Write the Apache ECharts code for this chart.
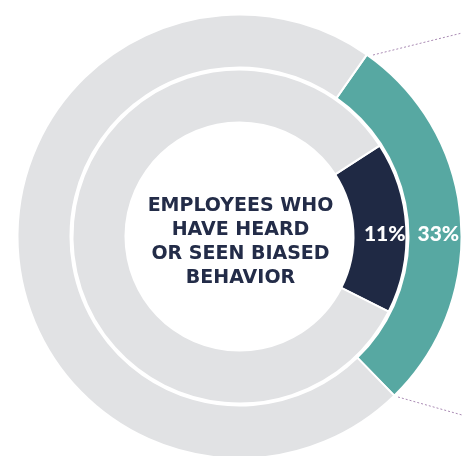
<!DOCTYPE html>
<html><head><meta charset="utf-8">
<script src="https://cdn.jsdelivr.net/npm/echarts@6/dist/echarts.min.js"></script>
<style>html,body{margin:0;padding:0;background:#fff}#c{width:462px;height:456px}</style>
</head><body><div id="c"></div>
<script>
// Slice shares as drawn in the picture (share of the full circle, %)
const outerNames = ['Have heard or seen biased behavior', 'Other'];
const outerShare = [28, 72];
const outerLabels = ['33%', ''];
const innerNames = ['Employees who have heard or seen biased behavior', 'Other'];
const innerShare = [16.6, 83.4];
const innerLabels = ['11%', ''];
const centerLines = ['EMPLOYEES WHO', 'HAVE HEARD', 'OR SEEN BIASED', 'BEHAVIOR'];

const GREY = '#E1E2E4', TEAL = '#57A8A2', NAVY = '#1F2944';
const FONT = 'Lato';

function build(names, vals, labels, colors, offset) {
  return names.map((n, i) => ({
    name: n, value: vals[i],
    itemStyle: { color: colors[i] },
    label: { show: !!labels[i], formatter: labels[i], offset: offset }
  }));
}

const chart = echarts.init(document.getElementById('c'), null, { renderer: 'canvas' });
chart.setOption({
  animation: false,
  series: [
    {
      type: 'pie', center: [239.5, 236.5], radius: [169, 222], startAngle: 55, clockwise: true,
      silent: true, avoidLabelOverlap: false,
      itemStyle: { borderColor: '#fff', borderWidth: 2 },
      label: { position: 'inside', color: '#fff', fontFamily: FONT, fontWeight: 900, fontSize: 21 },
      labelLine: { show: false },
      data: build(outerNames, outerShare, outerLabels, [TEAL, GREY], [1, 14])
    },
    {
      type: 'pie', center: [239.5, 236.5], radius: [114, 167], startAngle: 33, clockwise: true,
      silent: true, avoidLabelOverlap: false,
      itemStyle: { borderColor: '#fff', borderWidth: 2 },
      label: { position: 'inside', color: '#fff', fontFamily: FONT, fontWeight: 900, fontSize: 21 },
      labelLine: { show: false },
      data: build(innerNames, innerShare, innerLabels, [NAVY, GREY], [2, 6])
    }
  ],
  graphic: [
    {
      type: 'text', x: 240.5, y: 242,
      style: {
        text: centerLines.join('\n'), align: 'center', verticalAlign: 'middle',
        fill: '#232C48', font: 'bold 19px "DejaVu Sans"', lineHeight: 24
      }
    },
    { type: 'polyline', shape: { points: [[373, 55], [462, 33]] }, style: { stroke: '#A98AB3', lineWidth: 1, lineDash: [2, 2] } },
    { type: 'polyline', shape: { points: [[398, 397], [462, 415]] }, style: { stroke: '#A98AB3', lineWidth: 1, lineDash: [2, 2] } }
  ]
});
</script></body></html>
